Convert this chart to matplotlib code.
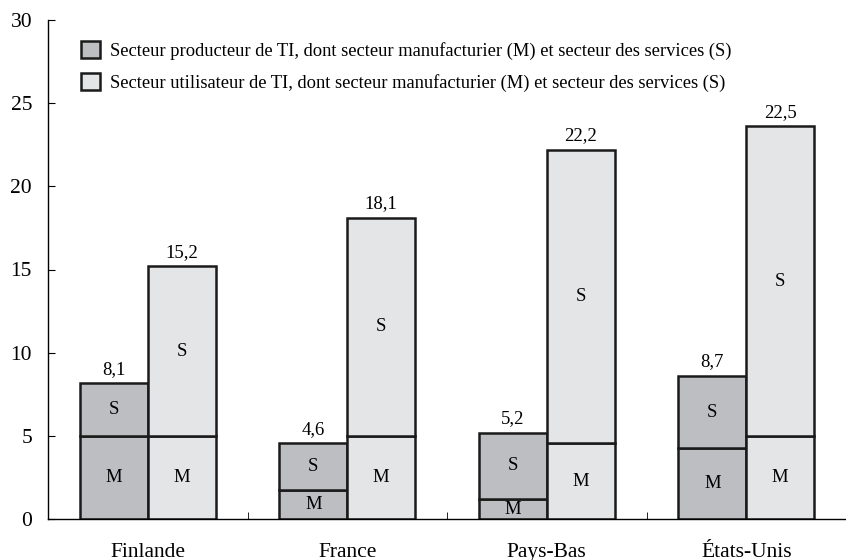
import matplotlib
matplotlib.use('Agg')
import matplotlib.pyplot as plt
from matplotlib.patches import Patch
import numpy as np

plt.rcParams['font.family'] = ['Liberation Serif', 'DejaVu Serif']

# Données
countries = ['Finlande', 'France', 'Pays-Bas', 'États-Unis']
prod_M = [5.0, 1.75, 1.2, 4.25]
prod_S = [3.15, 2.8, 4.0, 4.35]
user_M = [5.0, 5.0, 4.55, 5.0]
user_S = [10.2, 13.1, 17.65, 18.6]
prod_labels = ['8,1', '4,6', '5,2', '8,7']
user_labels = ['15,2', '18,1', '22,2', '22,5']
legend_labels = [
    'Secteur producteur de TI, dont secteur manufacturier (M) et secteur des services (S)',
    'Secteur utilisateur de TI, dont secteur manufacturier (M) et secteur des services (S)',
]

dark = '#bdbec2'
light = '#e4e5e7'
edge = '#1a1a1a'

fig = plt.figure(figsize=(8.46, 5.6), dpi=100)
ax = fig.add_axes([48 / 846, 41 / 560, 798 / 846, 499 / 560])

x = np.arange(len(countries))
w = 0.34
xp = x - w / 2
xu = x + w / 2

kw = dict(width=w, edgecolor=edge, linewidth=1.8)
ax.bar(xp, prod_M, color=dark, **kw)
ax.bar(xp, prod_S, bottom=prod_M, color=dark, **kw)
ax.bar(xu, user_M, color=light, **kw)
ax.bar(xu, user_S, bottom=user_M, color=light, **kw)

fs = 13.5
for i in range(len(countries)):
    ax.text(xp[i], prod_M[i] / 2, 'M', ha='center', va='center', fontsize=fs)
    ax.text(xp[i], prod_M[i] + prod_S[i] / 2, 'S', ha='center', va='center', fontsize=fs)
    ax.text(xu[i], user_M[i] / 2, 'M', ha='center', va='center', fontsize=fs)
    ax.text(xu[i], user_M[i] + user_S[i] / 2, 'S', ha='center', va='center', fontsize=fs)
    ax.annotate(prod_labels[i], (xp[i], prod_M[i] + prod_S[i]), xytext=(0, 4),
                textcoords='offset points', ha='center', va='bottom', fontsize=fs)
    ax.annotate(user_labels[i], (xu[i], user_M[i] + user_S[i]), xytext=(0, 4),
                textcoords='offset points', ha='center', va='bottom', fontsize=fs)

ax.set_xlim(-0.5, 3.5)
ax.set_ylim(0, 30)
ax.set_yticks(np.arange(0, 31, 5))
ax.tick_params(axis='y', direction='in', length=5, labelsize=15.5, pad=11.5)
ax.set_xticks(x)
ax.set_xticklabels(countries, fontsize=15.5)
ax.tick_params(axis='x', length=0, pad=17)
ax.set_xticks(x[:-1] + 0.5, minor=True)
ax.tick_params(axis='x', which='minor', direction='in', length=5)

for s in ['top', 'right']:
    ax.spines[s].set_visible(False)
ax.spines['left'].set_linewidth(1.0)
ax.spines['bottom'].set_linewidth(1.0)

handles = [Patch(facecolor=dark, edgecolor=edge, linewidth=1.8),
           Patch(facecolor=light, edgecolor=edge, linewidth=1.8)]
ax.legend(handles, legend_labels, loc='upper left', bbox_to_anchor=(0.032, 0.973),
          frameon=False, fontsize=13.3, handlelength=1.05, handleheight=1.05,
          handletextpad=0.55, labelspacing=0.72, borderaxespad=0)

fig.savefig('out.png', dpi=100)
